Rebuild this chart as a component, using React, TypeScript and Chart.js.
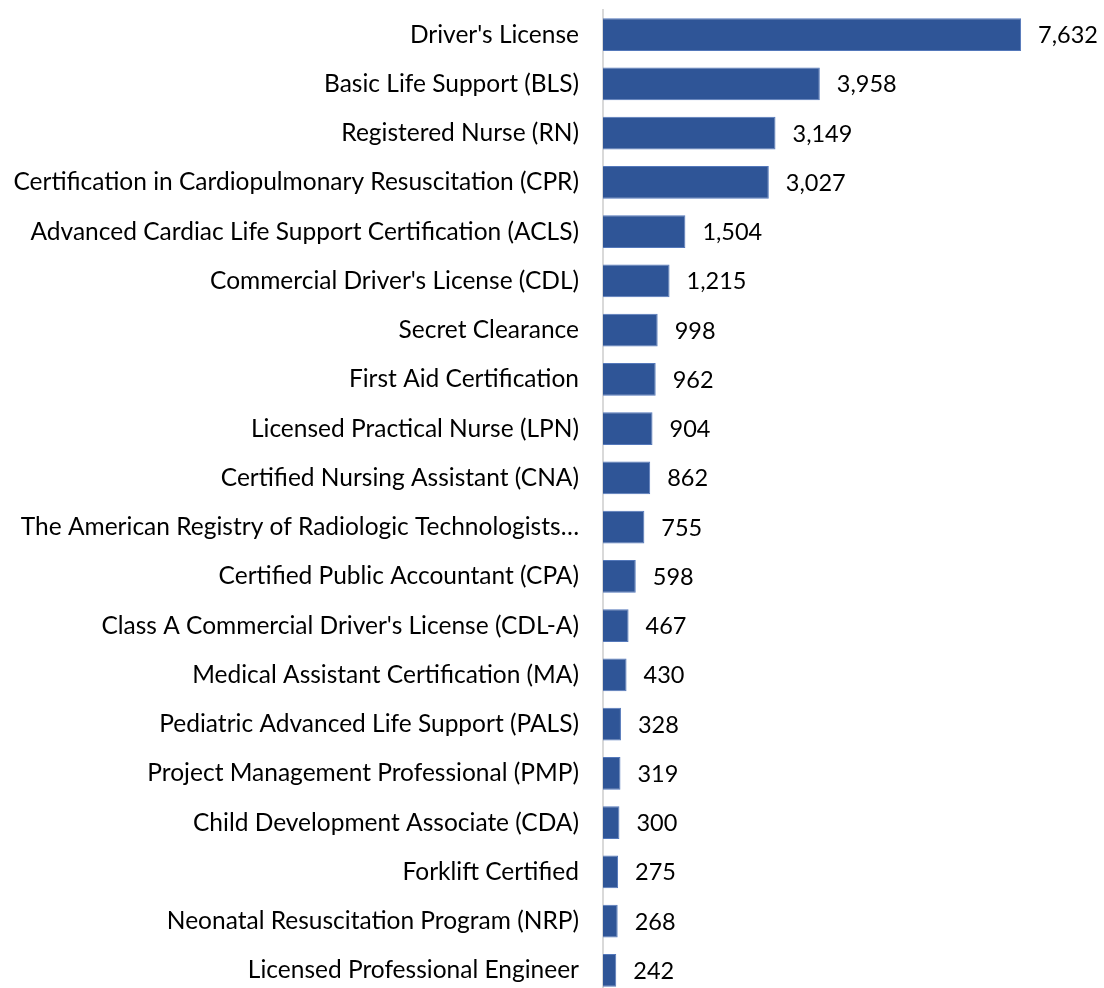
import React, { useEffect, useRef } from "react";
import { Chart, registerables } from "chart.js";

Chart.register(...registerables);

const categories: string[] = [
  "Driver's License",
  "Basic Life Support (BLS)",
  "Registered Nurse (RN)",
  "Certification in Cardiopulmonary Resuscitation (CPR)",
  "Advanced Cardiac Life Support Certification (ACLS)",
  "Commercial Driver's License (CDL)",
  "Secret Clearance",
  "First Aid Certification",
  "Licensed Practical Nurse (LPN)",
  "Certified Nursing Assistant (CNA)",
  "The American Registry of Radiologic Technologists…",
  "Certified Public Accountant (CPA)",
  "Class A Commercial Driver's License (CDL-A)",
  "Medical Assistant Certification (MA)",
  "Pediatric Advanced Life Support (PALS)",
  "Project Management Professional (PMP)",
  "Child Development Associate (CDA)",
  "Forklift Certified",
  "Neonatal Resuscitation Program (NRP)",
  "Licensed Professional Engineer",
];

const counts: number[] = [
  7632, 3958, 3149, 3027, 1504, 1215, 998, 962, 904, 862, 755, 598, 467, 430,
  328, 319, 300, 275, 268, 242,
];

const axisMin = 0;
const axisMax = 9000;

const FONT = "Lato, 'Open Sans', sans-serif";
const FONT_SIZE = 24.5;
const VALUE_FONT_SIZE = 23.5;

const valueLabels = {
  id: "valueLabels",
  afterDatasetsDraw(chart: any) {
    const ctx = chart.ctx;
    const meta = chart.getDatasetMeta(0);
    ctx.save();
    ctx.font = `${VALUE_FONT_SIZE}px ${FONT}`;
    ctx.fillStyle = "#000000";
    ctx.textAlign = "left";
    ctx.textBaseline = "middle";
    meta.data.forEach((bar: any, i: number) => {
      const v = chart.data.datasets[0].data[i] as number;
      ctx.fillText(v.toLocaleString("en-US"), bar.x + 17, bar.y + 1);
    });
    ctx.restore();
  },
};

export default function App() {
  const ref = useRef<HTMLCanvasElement | null>(null);

  useEffect(() => {
    document.body.style.margin = "0";
    const canvas = ref.current;
    if (!canvas) return;
    const chart = new Chart(canvas, {
      type: "bar",
      data: {
        labels: categories,
        datasets: [
          {
            data: counts,
            backgroundColor: "#2F5597",
            borderColor: "#5478BA",
            borderWidth: 1,
            barPercentage: 0.67,
            categoryPercentage: 1,
          },
        ],
      },
      options: {
        indexAxis: "y",
        responsive: false,
        animation: false,
        layout: { padding: { top: 10, bottom: 5, right: 8, left: 0 } },
        plugins: {
          legend: { display: false },
          tooltip: { enabled: false },
        },
        scales: {
          x: {
            display: false,
            min: axisMin,
            max: axisMax,
          },
          y: {
            afterFit: (scale: any) => {
              scale.width = 603;
              scale.paddingTop = 0;
              scale.paddingBottom = 0;
            },
            grid: { display: false, drawTicks: false },
            border: { display: true, color: "#D9D9D9", width: 2 },
            ticks: {
              color: "#000000",
              padding: 24,
              autoSkip: false,
              font: { family: FONT, size: FONT_SIZE },
            },
          },
        },
      },
      plugins: [valueLabels],
    });
    return () => chart.destroy();
  }, []);

  return (
    <div style={{ position: "absolute", left: 0, top: 0, width: 1104, height: 1000 }}>
      <canvas ref={ref} width={1104} height={1000} style={{ display: "block" }} />
    </div>
  );
}
